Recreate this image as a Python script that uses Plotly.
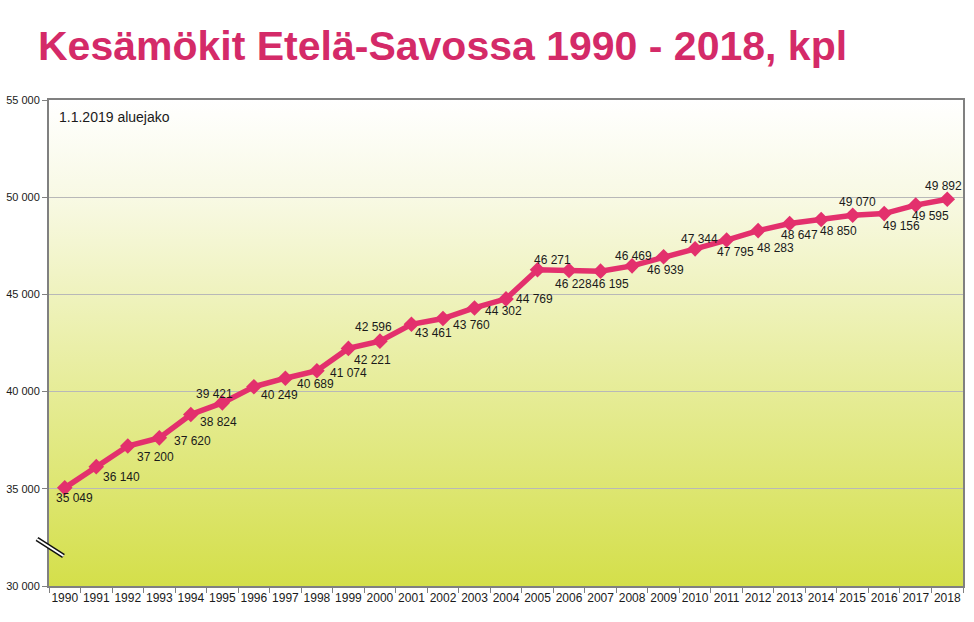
import base64
import plotly.graph_objects as go

# ---- data ----
years = [str(y) for y in range(1990, 2019)]
cottages = [35049, 36140, 37200, 37620, 38824, 39421, 40249, 40689, 41074, 42221,
            42596, 43461, 43760, 44302, 44769, 46271, 46228, 46195, 46469, 46939,
            47344, 47795, 48283, 48647, 48850, 49070, 49156, 49595, 49892]
y_ticks = [30000, 35000, 40000, 45000, 50000, 55000]

# label offsets (pixels, right / down) relative to each point
label_dx = [10, 25, 28, 33, 28, -8, 26, 30, 32, 24, -6, 22, 29, 29, 28, 15, 4, 10,
            1, 2, 4, 9, 17, 10, 17, 5, 17, 15, -4]
label_dy = [10, 10, 11, 3, 8, -9, 8, 6, 2, 12, -14, 9, 6, 3, 0, -10, 13, 13,
            -10, 13, -10, 12, 17, 11, 11, -13, 12, 11, -13]

PINK = "#e3306d"
FONT = "Liberation Sans, Arial, sans-serif"

fig = go.Figure()
fig.add_trace(go.Scatter(
    x=years, y=cottages, mode="lines+markers",
    line=dict(color=PINK, width=5.5),
    marker=dict(symbol="diamond", size=12, color=PINK),
    hoverinfo="skip", showlegend=False,
))

def fmt(v):
    return f"{v:,}".replace(",", " ")

annotations = []
for i, (v, dx, dy) in enumerate(zip(cottages, label_dx, label_dy)):
    annotations.append(dict(
        x=i, y=v, xref="x", yref="y", text=fmt(v), showarrow=False,
        xanchor="center", yanchor="middle", xshift=dx, yshift=-dy,
        font=dict(family=FONT, size=12, color="#1a1a1a"),
    ))

annotations.append(dict(
    x=8 / 914, y=1 - 17 / 486, xref="paper", yref="paper",
    text="1.1.2019 aluejako", showarrow=False, xanchor="left", yanchor="middle",
    font=dict(family=FONT, size=14, color="#1a1a1a"),
))
annotations.append(dict(
    x=(36 - 49) / 914, y=(586 - 46) / 486, xref="paper", yref="paper",
    text="<b>Kesämökit Etelä-Savossa 1990 - 2018, kpl</b>", showarrow=False,
    xanchor="left", yanchor="middle",
    font=dict(family=FONT, size=41, color="#d42a68"),
))

svg = ("<svg xmlns='http://www.w3.org/2000/svg' width='10' height='100' viewBox='0 0 10 100' "
       "preserveAspectRatio='none'><defs><linearGradient id='g' x1='0' y1='0' x2='0' y2='1'>"
       "<stop offset='0' stop-color='#ffffff'/>"
       "<stop offset='0.2' stop-color='#f8f9e4'/>"
       "<stop offset='1' stop-color='#d4df4a'/>"
       "</linearGradient></defs><rect width='10' height='100' fill='url(#g)'/></svg>")
src = "data:image/svg+xml;base64," + base64.b64encode(svg.encode()).decode()

def px_to_paper(px, py):
    return (px - 49) / 914, (586 - py) / 486

shapes = []
for w, c in [(5, "#111111"), (2, "#ffffff")]:
    x0, y0 = px_to_paper(37, 539)
    x1, y1 = px_to_paper(63.5, 556)
    shapes.append(dict(type="line", xref="paper", yref="paper", x0=x0, y0=y0, x1=x1, y1=y1,
                       line=dict(color=c, width=w), layer="above"))

fig.update_layout(
    width=974, height=622,
    margin=dict(l=49, r=11, t=100, b=36, autoexpand=False),
    paper_bgcolor="white", plot_bgcolor="rgba(0,0,0,0)",
    separators=", ",
    font=dict(family=FONT, color="#1a1a1a"),
    annotations=annotations,
    shapes=shapes,
    images=[dict(source=src, xref="paper", yref="paper", x=0, y=1, sizex=1, sizey=1,
                 xanchor="left", yanchor="top", sizing="stretch", layer="below")],
    xaxis=dict(
        type="category", range=[-0.5, 28.5], tickson="boundaries", tickangle=0,
        ticks="outside", ticklen=5, tickcolor="#808080", tickwidth=1,
        showline=True, linecolor="#808080", linewidth=2, mirror=True,
        showgrid=False, tickfont=dict(size=12, color="#1a1a1a"), automargin=False,
    ),
    yaxis=dict(
        range=[30000, 55000], tickvals=y_ticks, tickformat=",d",
        ticks="outside", ticklen=5, tickcolor="#808080",
        showline=True, linecolor="#808080", linewidth=2, mirror=True,
        showgrid=True, gridcolor="#b8b8b8", gridwidth=1, zeroline=False,
        tickfont=dict(size=11, color="#1a1a1a"), automargin=False,
    ),
)

fig.write_html("out.html")
